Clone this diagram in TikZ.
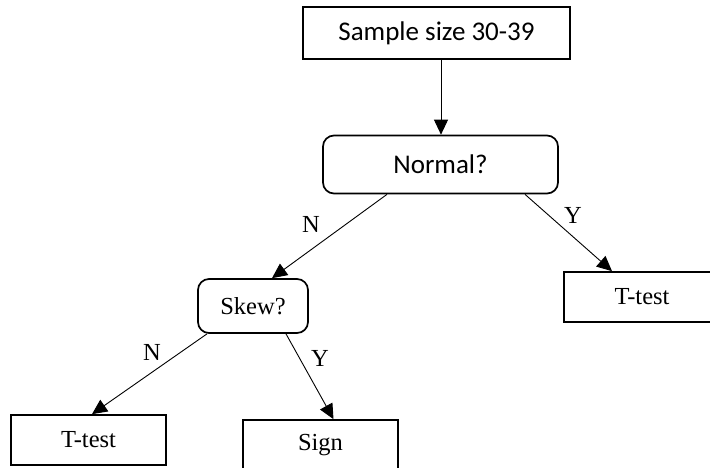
\documentclass[tikz,border=0pt]{standalone}
\usepackage{fontspec}
\setmainfont{Liberation Serif}
\newfontfamily\calfont{Carlito}
\usetikzlibrary{arrows.meta}
\tikzset{
  box/.style={draw, line width=1.7pt, inner sep=0pt, align=center},
  calbox/.style={box, font=\calfont\fontsize{27}{32}\selectfont},
  serbox/.style={box, font=\fontsize{24.5}{29}\selectfont},
  rbox/.style={rounded corners=11pt},
  arr/.style={line width=0.9pt, -{Triangle[length=15pt,width=14pt]}},
  lbl/.style={font=\fontsize{24.5}{29}\selectfont, inner sep=0pt}
}
\begin{document}
\begin{tikzpicture}[x=1pt,y=-1pt]
\useasboundingbox (0,0) rectangle (710,467);
\clip (0,0) rectangle (710,467);
\node[calbox, minimum width=267pt, minimum height=52pt] (top) at (436.5,33) {Sample size 30-39};
\node[calbox, rbox, minimum width=235pt, minimum height=58pt] (normal) at (440.5,164.5) {Normal?};
\node[serbox, rbox, minimum width=110pt, minimum height=54pt] (skew) at (253,306) {Skew?};
\node[serbox, minimum width=156pt, minimum height=50pt] (tr) at (642,297) {T-test};
\node[serbox, minimum width=155pt, minimum height=50pt] (tl) at (88.5,440) {T-test};
\node[serbox, minimum width=155pt, minimum height=50pt] (sign) at (320.5,445) {Sign};
\draw[arr] ([xshift=4.5pt]top.south) -- ([xshift=0.5pt]normal.north);
\draw[arr] ([xshift=-53.5pt]normal.south) -- ([xshift=19pt]skew.north);
\draw[arr] ([xshift=84.5pt]normal.south) -- ([xshift=-30pt]tr.north);
\draw[arr] ([xshift=-46pt]skew.south) -- ([xshift=3.5pt]tl.north);
\draw[arr] ([xshift=33pt]skew.south) -- ([xshift=13pt]sign.north);
\node[lbl] (n1) at (311,224) {N};
\node[lbl] (y1) at (573,215) {Y};
\node[lbl] (n2) at (152,352) {N};
\node[lbl] (y2) at (320,358) {Y};
\end{tikzpicture}
\end{document}
